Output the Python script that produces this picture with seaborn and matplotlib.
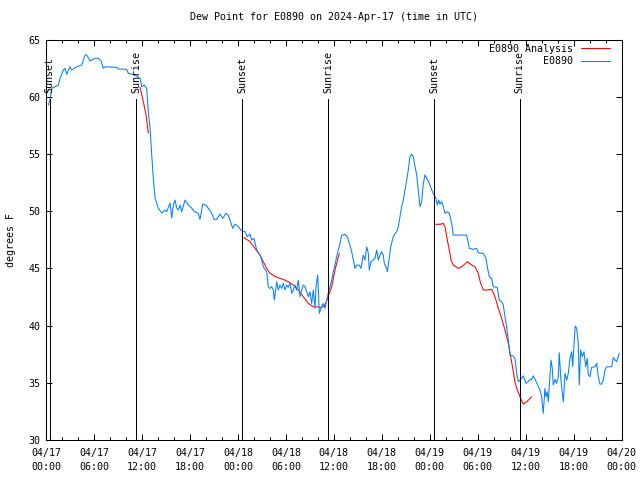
import pandas as pd
import matplotlib
matplotlib.use("Agg")
import matplotlib.pyplot as plt
import matplotlib.dates as mdates
from matplotlib.lines import Line2D
import seaborn as sns

start = pd.Timestamp("2024-04-17 00:00")

# observed dew point, hours since 04/17 00:00 UTC and degrees F
obs_hours = [0.29, 0.50, 0.71, 1.13, 1.54, 1.75, 2.16, 2.38, 2.59, 3.00, 3.21, 3.84, 4.46, 4.88, 5.09,
             5.50, 6.13, 6.54, 6.88, 7.17, 7.38, 8.84, 9.04, 10.09, 10.29, 11.13, 11.76, 11.97, 12.29,
             12.59, 12.79, 13.01, 13.22, 13.42, 13.63, 14.04, 14.47, 14.67, 14.88, 15.09, 15.51, 15.72,
             15.92, 16.13, 16.35, 16.55, 16.76, 16.97, 17.38, 17.80, 18.22, 18.55, 18.63, 19.05, 19.26,
             19.60, 20.01, 20.30, 20.72, 21.01, 21.35, 21.76, 22.10, 22.51, 22.80, 23.01, 23.35, 23.64,
             24.05, 24.47, 24.89, 25.17, 25.51, 25.72, 26.01, 26.35, 26.76, 26.98, 27.18, 27.60, 27.80,
             28.01, 28.23, 28.43, 28.55, 28.85, 29.05, 29.26, 29.48, 29.68, 29.89, 30.10, 30.30, 30.51,
             30.73, 30.93, 31.14, 31.35, 31.55, 31.77, 31.98, 32.18, 32.39, 32.60, 32.80, 33.02, 33.23,
             33.43, 33.64, 33.77, 33.98, 34.18, 34.48, 34.68, 34.89, 35.10, 35.30, 35.52, 35.73, 35.93,
             36.14, 36.35, 36.55, 36.77, 36.98, 37.39, 37.68, 37.93, 38.23, 38.43, 38.64, 38.86, 39.18,
             39.39, 39.68, 39.89, 40.11, 40.31, 40.43, 40.64, 40.93, 41.14, 41.36, 41.56, 41.77, 41.98,
             42.18, 42.31, 42.61, 42.68, 42.93, 43.11, 43.43, 43.65, 43.86, 44.06, 44.27, 44.48, 44.68,
             44.90, 45.11, 45.31, 45.52, 45.73, 45.94, 46.15, 46.36, 46.56, 46.77, 46.98, 47.19, 47.40,
             47.61, 47.94, 48.24, 48.44, 48.77, 48.94, 49.11, 49.27, 49.49, 49.69, 49.90, 50.19, 50.44,
             50.74, 50.94, 52.61, 52.94, 53.44, 53.86, 54.06, 54.69, 55.03, 55.19, 55.44, 55.74, 55.94,
             56.44, 56.69, 56.99, 57.19, 57.40, 57.61, 57.82, 58.03, 58.44, 58.65, 58.87, 59.07, 59.28,
             59.49, 59.69, 60.03, 60.32, 60.53, 60.74, 60.94, 61.37, 61.78, 61.99, 62.19, 62.40, 62.53,
             62.69, 62.82, 63.03, 63.16, 63.32, 63.44, 63.66, 63.87, 64.07, 64.19, 64.37, 64.49, 64.70,
             64.91, 65.12, 65.32, 65.53, 65.74, 65.87, 66.07, 66.19, 66.37, 66.57, 66.69, 66.87, 67.07,
             67.28, 67.50, 67.70, 67.82, 68.03, 68.24, 68.66, 68.87, 69.07, 69.28, 69.49, 69.70, 69.91,
             70.12, 70.75, 70.95, 71.16, 71.37, 71.57, 71.70]
obs_dewpt = [59.27, 59.71, 60.73, 60.87, 61.02, 61.61, 62.33, 62.48, 61.96, 62.62, 62.33, 62.62, 62.77,
             63.65, 63.65, 63.12, 63.36, 63.36, 63.12, 62.48, 62.62, 62.57, 62.42, 62.40, 62.05, 61.90,
             61.61, 60.87, 61.02, 60.73, 58.69, 57.26, 54.90, 52.89, 51.15, 50.27, 49.84, 49.95, 50.10,
             49.95, 50.71, 49.40, 50.53, 50.97, 50.27, 50.10, 50.53, 49.95, 50.97, 50.53, 50.27, 49.95,
             49.95, 49.81, 49.28, 50.62, 50.53, 50.25, 49.81, 49.28, 49.28, 49.75, 49.37, 49.81, 49.66,
             49.22, 48.50, 48.87, 48.64, 48.26, 48.20, 47.76, 48.00, 47.48, 47.62, 46.60, 46.16, 45.73,
             45.14, 44.71, 43.39, 43.25, 43.39, 43.11, 42.23, 43.83, 43.11, 43.54, 43.25, 43.69, 43.11,
             43.54, 43.34, 43.69, 42.82, 43.11, 43.54, 43.11, 43.98, 42.52, 43.11, 43.54, 43.39, 42.96,
             42.52, 42.96, 41.94, 43.11, 41.51, 43.39, 44.42, 41.07, 41.65, 41.94, 41.51, 42.23, 42.82,
             43.39, 43.98, 44.71, 45.29, 46.02, 46.60, 47.19, 47.91, 47.97, 47.76, 47.19, 46.45, 45.73,
             45.00, 45.29, 45.29, 45.00, 46.16, 45.73, 46.89, 46.31, 44.85, 45.58, 45.73, 45.88, 46.60,
             45.73, 46.16, 46.45, 46.16, 45.44, 45.00, 44.71, 45.88, 46.89, 47.76, 48.06, 48.20, 48.64,
             49.51, 50.39, 50.97, 51.85, 52.72, 53.59, 54.76, 54.97, 54.76, 53.88, 53.16, 51.85, 50.39,
             50.82, 52.43, 53.16, 52.87, 52.43, 51.85, 51.56, 51.12, 50.53, 50.97, 50.62, 50.82, 50.39,
             49.81, 49.95, 49.81, 48.93, 47.91, 47.91, 46.75, 46.66, 46.75, 46.36, 46.31, 45.88, 45.14,
             44.27, 44.13, 43.39, 43.34, 42.23, 42.08, 41.80, 40.77, 39.90, 38.73, 37.42, 37.34, 37.14,
             35.82, 35.09, 35.24, 35.39, 35.61, 34.95, 35.09, 35.30, 35.30, 35.61, 35.00, 34.37, 33.78,
             32.33, 34.51, 33.78, 34.22, 33.34, 35.53, 36.99, 36.26, 34.80, 35.30, 34.95, 35.53, 37.63,
             35.53, 34.65, 33.34, 35.82, 35.24, 35.82, 37.14, 37.71, 36.40, 38.73, 39.96, 39.76, 38.45,
             34.80, 37.86, 37.28, 37.71, 36.40, 37.14, 35.68, 35.53, 36.35, 36.40, 36.70, 35.53, 34.89,
             34.89, 35.24, 36.11, 36.40, 36.40, 37.22, 36.99, 36.84, 37.28, 37.57]

# analysis, three pieces around sunrise / sunset
ana1_hours = [11.76, 12.13, 12.51, 12.79]
ana1_dewpt = [60.85, 59.71, 58.40, 56.83]
ana2_hours = [24.76, 25.51, 26.14, 26.76, 27.18, 27.60, 28.01, 28.85, 29.68, 30.30, 30.93, 31.55,
              32.18, 32.80, 33.43, 34.48, 34.89, 35.30, 35.73, 36.14, 36.68]
ana2_dewpt = [47.71, 47.33, 46.75, 46.16, 45.58, 45.00, 44.57, 44.22, 44.04, 43.83, 43.54, 43.11,
              42.52, 41.94, 41.65, 41.59, 41.80, 42.52, 43.39, 44.85, 46.31]
ana3_hours = [48.65, 49.27, 49.69, 49.90, 50.19, 50.44, 50.65, 50.94, 51.57, 51.99, 52.69, 53.24,
              53.65, 54.06, 54.36, 54.69, 55.11, 55.74, 56.15, 56.57, 56.99, 57.40, 57.82, 58.12,
              58.37, 58.65, 58.87, 59.28, 59.69, 60.11, 60.74]
ana3_dewpt = [48.85, 48.85, 48.93, 48.64, 47.48, 46.60, 45.73, 45.29, 45.00, 45.14, 45.58, 45.29,
              45.14, 44.57, 43.69, 43.11, 43.11, 43.17, 42.52, 41.51, 40.63, 39.61, 38.45, 37.28,
              36.26, 35.09, 34.51, 33.78, 33.14, 33.34, 33.78]

sun_hours = [0.47, 11.3, 24.5, 35.3, 48.55, 59.25]
sun_labels = ["Sunset", "Sunrise", "Sunset", "Sunrise", "Sunset", "Sunrise"]

obs = pd.DataFrame({"time": start + pd.to_timedelta(obs_hours, unit="h"), "dewpt": obs_dewpt})
pieces = []
for i, (h, d) in enumerate([(ana1_hours, ana1_dewpt), (ana2_hours, ana2_dewpt), (ana3_hours, ana3_dewpt)]):
    pieces.append(pd.DataFrame({"time": start + pd.to_timedelta(h, unit="h"), "dewpt": d, "seg": i}))
ana = pd.concat(pieces, ignore_index=True)
sun_times = start + pd.to_timedelta(sun_hours, unit="h")

sns.set_style("ticks", {"xtick.direction": "in", "ytick.direction": "in",
                        "text.color": "black", "axes.labelcolor": "black",
                        "xtick.color": "black", "ytick.color": "black"})
plt.rcParams["font.family"] = ["DejaVu Sans Mono"]
plt.rcParams["font.size"] = 7.2

red = "#ff0000"
blue = "#0080ff"
lw = 0.75  # about one pixel

fig = plt.figure(figsize=(6.4, 4.8), dpi=100)
ax = fig.add_axes([0.0719, 0.0833, 0.8995, 0.8344])

sns.lineplot(data=ana, x="time", y="dewpt", units="seg", estimator=None, sort=False,
             color=red, linewidth=lw, ax=ax, legend=False)
sns.lineplot(data=obs, x="time", y="dewpt", estimator=None, sort=False,
             color=blue, linewidth=lw, ax=ax, legend=False)
for ln in ax.get_lines():
    ln.set_linewidth(lw)

ax.vlines(sun_times, 30, 59.8, color="black", lw=0.72, antialiased=False)
for t, lab in zip(sun_times, sun_labels):
    ax.text(t, 60.3, lab, rotation=90, ha="center", va="bottom", fontsize=7.2, color="black")

ax.set_xlim(start, start + pd.Timedelta(hours=72))
ax.set_ylim(30, 65)
ax.xaxis.set_major_locator(mdates.HourLocator(byhour=[0, 6, 12, 18]))
ax.xaxis.set_minor_locator(mdates.HourLocator(byhour=range(0, 24, 2)))
ax.xaxis.set_major_formatter(mdates.DateFormatter("%m/%d\n%H:%M"))
ax.set_yticks(range(30, 66, 5))
ax.tick_params(which="both", direction="in", top=True, right=True, labelsize=7.2,
               color="black", labelcolor="black")
ax.tick_params(which="major", length=4, width=lw)
ax.tick_params(which="minor", length=2, width=lw)
ax.tick_params(axis="x", pad=6)
ax.tick_params(axis="y", pad=4)
for lab in ax.get_xticklabels():
    lab.set_linespacing(1.5)
for sp in ax.spines.values():
    sp.set_visible(True)
    sp.set_color("black")
    sp.set_linewidth(lw)

ax.set_xlabel("")
ax.set_ylabel("degrees F", fontsize=7.2, labelpad=9, color="black")
ax.set_title("Dew Point for E0890 on 2024-Apr-17 (time in UTC)", fontsize=7.2, pad=14, color="black")

handles = [Line2D([], [], color=red, lw=lw), Line2D([], [], color=blue, lw=lw)]
leg = ax.legend(handles, ["E0890 Analysis", "E0890"], loc="upper right", bbox_to_anchor=(0.98, 0.99),
                frameon=False, markerfirst=False, borderaxespad=0, borderpad=0,
                handlelength=2.9, handletextpad=0.8, labelspacing=0.25, fontsize=7.2)
for txt in leg.get_texts():
    txt.set_color("black")

fig.savefig("out.png", dpi=100)
